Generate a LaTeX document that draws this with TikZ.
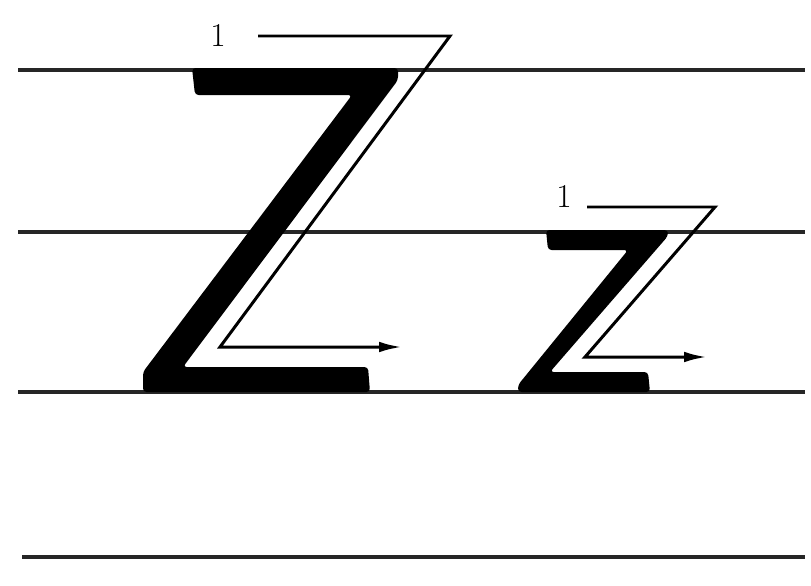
\documentclass[tikz,border=0pt]{standalone}
\usetikzlibrary{arrows.meta}

\begin{document}
\begin{tikzpicture}[x=0.02cm,y=-0.02cm,
        ruling/.style={line width=2pt,black!85},
        letter/.style={fill=black,rounded corners=2pt},
        guide/.style={line width=1.7pt,-{Latex[length=13pt,width=6pt]}},
        num/.style={font=\fontsize{19}{19}\selectfont,inner sep=0pt}]
        \useasboundingbox (0,0) rectangle (811,585);
        % writing lines
        \foreach \y in {70,232,392}{
            \draw[ruling] (18,\y) -- (805,\y);
        }
        \draw[ruling] (22,557) -- (805,557);
        % capital Z
        \fill[letter] (192,68) -- (398,68) -- (398,80) -- (183,367) -- (368,367)
            -- (370,392) -- (143,392) -- (143,372) -- (352,95) -- (195,95) -- cycle;
        \node[num] (oneZ) at (218,35) {1};
        \coordinate (Zs) at (258,36);
        \coordinate (Zt) at (450,36);
        \coordinate (Zc) at (220,347);
        \coordinate (Ze) at (402,347);
        \draw[guide] (Zs) -- (Zt) -- (Zc) -- (Ze);
        % small z
        \fill[letter] (546,230) -- (668,230) -- (668,236) -- (550,372) -- (648,372)
            -- (650,392) -- (518,392) -- (518,385) -- (628,250) -- (548,250) -- cycle;
        \node[num] (onez) at (564,196) {1};
        \coordinate (zs) at (587,207);
        \coordinate (zt) at (715,207);
        \coordinate (zc) at (585,357);
        \coordinate (ze) at (707,357);
        \draw[guide] (zs) -- (zt) -- (zc) -- (ze);
    \end{tikzpicture}
\end{document}
